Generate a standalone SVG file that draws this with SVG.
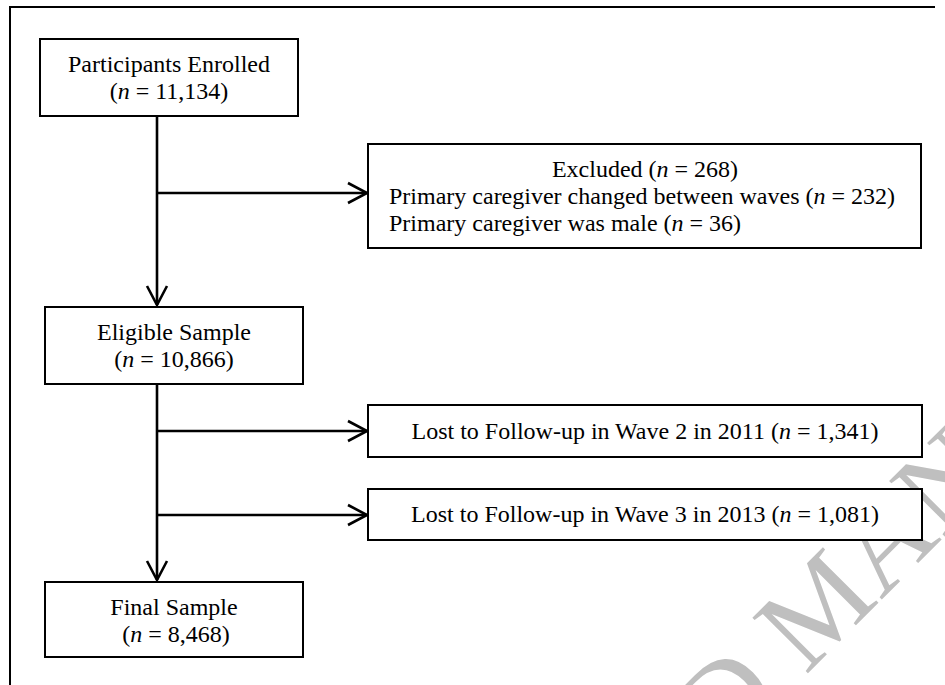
<svg xmlns="http://www.w3.org/2000/svg" width="945" height="685" viewBox="0 0 945 685">
<defs>
<style>
.box{fill:#fff;stroke:#000;stroke-width:2}
.lbl{font-family:"Liberation Serif","Times New Roman",serif;font-size:24px;fill:#000}
.c{text-anchor:middle}
.conn{fill:none;stroke:#000;stroke-width:2.6}
.frame{fill:none;stroke:#000;stroke-width:2}
.wm{font-family:"Liberation Serif","Times New Roman",serif;font-size:120px;fill:#bfbfbf}
</style>
<marker id="arr" markerUnits="userSpaceOnUse" markerWidth="24" markerHeight="24" refX="19" refY="10" orient="auto" viewBox="-2 -2 24 24">
<path d="M0,0 L19,10 L0,20" fill="none" stroke="#000" stroke-width="2.6"/>
</marker>
</defs>
<rect width="945" height="685" fill="#fff"/>
<g id="watermark">
<text class="wm" transform="translate(345.8,1135.4) rotate(-45)">ACCEPTED MANUSCRIPT</text>
</g>
<g id="frame">
<path class="frame" d="M10,686 L10,7 L935,7"/>
</g>
<g id="connectors">
<path class="conn" d="M157,116 L157,305" marker-end="url(#arr)"/>
<path class="conn" d="M157,193 L367,193" marker-end="url(#arr)"/>
<path class="conn" d="M157,384 L157,580" marker-end="url(#arr)"/>
<path class="conn" d="M157,431 L367,431" marker-end="url(#arr)"/>
<path class="conn" d="M157,515 L367,515" marker-end="url(#arr)"/>
</g>
<g id="enrolled">
<rect class="box" x="40" y="39" width="258" height="77"/>
<text class="lbl c" x="169" y="72">Participants Enrolled</text>
<text class="lbl c" x="169" y="99">(<tspan font-style="italic">n</tspan> = 11,134)</text>
</g>
<g id="excluded">
<rect class="box" x="368" y="144" width="553" height="104"/>
<text class="lbl c" x="645" y="177">Excluded (<tspan font-style="italic">n</tspan> = 268)</text>
<text class="lbl" x="389" y="204">Primary caregiver changed between waves (<tspan font-style="italic">n</tspan> = 232)</text>
<text class="lbl" x="389" y="231">Primary caregiver was male (<tspan font-style="italic">n</tspan> = 36)</text>
</g>
<g id="eligible">
<rect class="box" x="45" y="307" width="258" height="77"/>
<text class="lbl c" x="174" y="340">Eligible Sample</text>
<text class="lbl c" x="174" y="367">(<tspan font-style="italic">n</tspan> = 10,866)</text>
</g>
<g id="lost2">
<rect class="box" x="368" y="405" width="554" height="52"/>
<text class="lbl c" x="645" y="438.5">Lost to Follow-up in Wave 2 in 2011 (<tspan font-style="italic">n</tspan> = 1,341)</text>
</g>
<g id="lost3">
<rect class="box" x="368" y="489" width="554" height="51"/>
<text class="lbl c" x="645" y="522">Lost to Follow-up in Wave 3 in 2013 (<tspan font-style="italic">n</tspan> = 1,081)</text>
</g>
<g id="final">
<rect class="box" x="45" y="582" width="258" height="75"/>
<text class="lbl c" x="174" y="615">Final Sample</text>
<text class="lbl c" x="176" y="642">(<tspan font-style="italic">n</tspan> = 8,468)</text>
</g>
</svg>
